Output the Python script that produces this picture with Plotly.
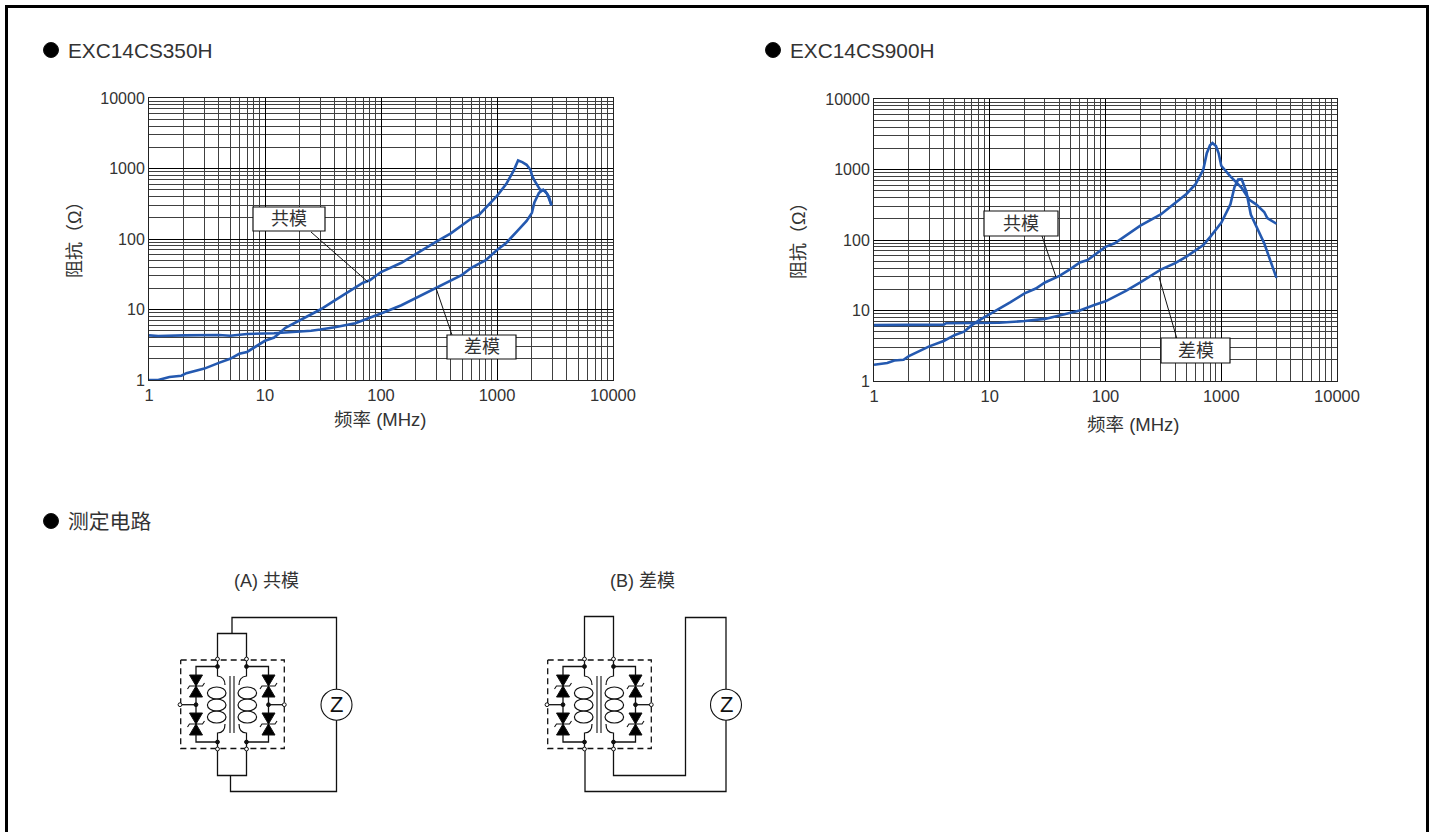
import plotly.graph_objects as go

# ---------- data ----------
freq_a_cm = [1, 1.2, 1.5, 1.9, 2.1, 3, 4, 5, 6, 7, 10, 12, 15, 20, 25, 30, 40, 50, 70, 80, 100, 150, 200, 300, 400, 500, 600, 700, 800, 1000, 1200, 1400, 1520, 1650, 1800, 1950, 2000, 2100, 2350, 2600, 2800, 2950]
imp_a_cm = [1.0, 1.0, 1.1, 1.15, 1.25, 1.45, 1.75, 2.0, 2.35, 2.5, 3.6, 4.0, 5.5, 7.0, 8.5, 10, 13.5, 17, 24, 26, 34, 46, 62, 92, 120, 155, 195, 220, 280, 410, 600, 950, 1300, 1230, 1130, 950, 800, 680, 500, 480, 400, 300]
freq_a_dm = [1, 1.2, 2, 4, 5, 6, 7, 12, 20, 25, 30, 40, 60, 80, 100, 150, 200, 300, 400, 500, 600, 800, 1000, 1200, 1500, 1800, 2000, 2100, 2300, 2500, 2700, 2950]
imp_a_dm = [4.3, 4.2, 4.3, 4.35, 4.25, 4.35, 4.5, 4.6, 4.8, 5.0, 5.2, 5.6, 6.4, 7.6, 8.8, 11.5, 14.5, 20.5, 26, 31, 39, 50, 70, 88, 130, 180, 235, 330, 450, 500, 440, 300]
freq_b_cm = [1, 1.3, 1.5, 1.8, 2, 2.5, 3, 4, 5, 6, 7, 8, 10, 15, 20, 25, 30, 40, 50, 60, 70, 100, 120, 150, 200, 300, 400, 500, 600, 700, 750, 800, 840, 900, 950, 1000, 1200, 1500, 1750, 2000, 2350, 2500, 3000]
imp_b_cm = [1.7, 1.8, 1.95, 2.0, 2.25, 2.7, 3.1, 3.7, 4.5, 5.0, 6.2, 7.2, 8.8, 13, 17.5, 20.5, 25, 31, 39, 48, 52, 80, 90, 115, 160, 230, 330, 450, 620, 1000, 1700, 2200, 2380, 2150, 1700, 1130, 800, 550, 370, 320, 250, 205, 170]
freq_b_dm = [1, 4, 4.2, 10, 12, 20, 30, 40, 60, 80, 100, 150, 200, 300, 400, 500, 700, 800, 1000, 1200, 1300, 1400, 1500, 1650, 1800, 2350, 3000]
imp_b_dm = [6.2, 6.3, 6.6, 6.7, 6.7, 7.1, 7.6, 8.5, 10, 12, 13.5, 19, 25, 38, 47, 58, 85, 110, 175, 320, 560, 720, 730, 480, 230, 90, 29]

tick_values = [1, 10, 100, 1000, 10000]
tick_labels = ["1", "10", "100", "1000", "10000"]
titles = ["EXC14CS350H", "EXC14CS900H"]
mode_cm = "共模"
mode_dm = "差模"

LINE = "#2459b0"
INK = "#333333"
FONT = "Liberation Sans, Noto Sans CJK SC, sans-serif"
W, H = 1434, 832

fig = go.Figure()
for xa, ya, fx, zx in [("x", "y", freq_a_cm, imp_a_cm), ("x", "y", freq_a_dm, imp_a_dm),
                       ("x2", "y2", freq_b_cm, imp_b_cm), ("x2", "y2", freq_b_dm, imp_b_dm)]:
    fig.add_trace(go.Scatter(x=fx, y=zx, xaxis=xa, yaxis=ya, mode="lines",
                             line=dict(color=LINE, width=2.6), showlegend=False, hoverinfo="skip"))
# overlay axis in page pixels (used for the drawing and the call-outs)
fig.add_trace(go.Scatter(x=[0], y=[0], xaxis="x3", yaxis="y3", mode="markers",
                         marker=dict(opacity=0), showlegend=False, hoverinfo="skip"))


def dom_x(a, b):
    return [a / W, b / W]


def dom_y(top, bottom):
    return [1 - bottom / H, 1 - top / H]


def log_axis(domain, anchor, size=16):
    return dict(type="log", domain=domain, anchor=anchor, range=[0, 4], tickmode="array",
                tickvals=tick_values, ticktext=tick_labels, ticks="", ticklen=0, automargin=False,
                showgrid=True, gridcolor="#000000", gridwidth=1,
                minor=dict(showgrid=True, gridcolor="#404040", gridwidth=1.2, dtick="D1", ticks=""),
                showline=True, linecolor="#222222", linewidth=1, mirror=True, zeroline=False,
                tickfont=dict(family=FONT, size=size, color=INK))


fig.update_layout(
    width=W, height=H, margin=dict(l=0, r=0, t=0, b=0), autosize=False,
    paper_bgcolor="white", plot_bgcolor="rgba(0,0,0,0)", showlegend=False,
    font=dict(family=FONT, color=INK),
    xaxis=log_axis(dom_x(149, 613), "y", 16.5),
    yaxis=log_axis(dom_y(98, 380), "x"),
    xaxis2=log_axis(dom_x(874, 1337), "y2", 16.5),
    yaxis2=log_axis(dom_y(99, 381), "x2"),
    xaxis3=dict(domain=[0, 1], range=[0, W], visible=False, anchor="y3", fixedrange=True, automargin=False),
    yaxis3=dict(domain=[0, 1], range=[H, 0], visible=False, anchor="x3", fixedrange=True, automargin=False),
)

shapes = []
annots = []


def seg(pts, width=1.3, color="#111111", dash=None, fill=None):
    d = "M" + " L".join(f"{x:.2f},{y:.2f}" for x, y in pts)
    if fill:
        d += " Z"
    shapes.append(dict(type="path", path=d, xref="x3", yref="y3", layer="above",
                       line=dict(color=color, width=width, dash=dash),
                       fillcolor=fill if fill else "rgba(0,0,0,0)"))


def dot(x, y, r, fill="#111111", width=1.0):
    shapes.append(dict(type="circle", x0=x - r, x1=x + r, y0=y - r, y1=y + r, xref="x3", yref="y3",
                       layer="above", line=dict(color="#111111", width=width), fillcolor=fill))


def text(x, y, s, size, anchor="center", color=INK, angle=0):
    annots.append(dict(x=x, y=y, xref="x3", yref="y3", text=s, showarrow=False, xanchor=anchor,
                       yanchor="middle", textangle=angle, font=dict(family=FONT, size=size, color=color)))


def callout(x0, y0, x1, y1, s):
    shapes.append(dict(type="rect", x0=x0, x1=x1, y0=y0, y1=y1, xref="x3", yref="y3", layer="above",
                       line=dict(color="#111111", width=1.2), fillcolor="white"))
    text((x0 + x1) / 2, (y0 + y1) / 2, s, 18)


# page frame
seg([(6.5, 832), (6.5, 6.5), (1427.5, 6.5), (1427.5, 832)], width=3, color="#000000")

# headings
for x, y, s in [(51, 50, titles[0]), (773, 50, titles[1]), (51, 521, "测定电路")]:
    dot(x, y, 7.5, fill="#000000")
    text(x + 14.5, y, s, 20.8, "left")
text(266, 581, "(A) 共模", 18)
text(642, 581, "(B) 差模", 18)

# axis titles
text(75, 236, "阻抗（Ω）", 18, angle=-90)
text(799, 237, "阻抗（Ω）", 18, angle=-90)
text(380, 419, "频率 (MHz)", 18.5)
text(1133, 424, "频率 (MHz)", 18.5)

# call-outs and leader lines
seg([(311, 232), (368, 282)], width=1)
seg([(436, 288), (452, 335)], width=1)
seg([(1042, 236), (1056, 277)], width=1)
seg([(1159, 277), (1177, 339)], width=1)
callout(253, 207, 325, 231, mode_cm)
callout(447, 335, 516, 359, mode_dm)
callout(984, 211, 1058, 236, mode_cm)
callout(1161, 338, 1230, 363, mode_dm)


def circuit(dx):
    """device symbol, dashed box from 180.7 (A) plus dx"""
    X = lambda v: v + dx
    seg([(X(180.7), 660), (X(284.3), 660), (X(284.3), 748.5), (X(180.7), 748.5), (X(180.7), 660)],
        width=1.3, dash="6px,4px")
    # diode rails
    seg([(X(217.5), 666.5), (X(196), 666.5), (X(196), 742), (X(217.5), 742)])
    seg([(X(246.5), 666.5), (X(268.5), 666.5), (X(268.5), 742), (X(246.5), 742)])
    seg([(X(180), 704.7), (X(196), 704.7)])
    seg([(X(268.5), 704.7), (X(284.3), 704.7)])
    for cx in (196, 268.5):
        sgn = 1 if cx == 196 else -1
        for top, mid, bot in [(675, 686, 697), (713, 724, 735)]:
            seg([(X(cx - 6.5), top), (X(cx + 6.5), top), (X(cx), mid)], width=1, fill="#000000")
            seg([(X(cx - 6.5), bot), (X(cx + 6.5), bot), (X(cx), mid)], width=1, fill="#000000")
            seg([(X(cx - 8.5 * sgn), mid + 3 * sgn), (X(cx - 6.5 * sgn), mid), (X(cx + 6.5 * sgn), mid),
                 (X(cx + 8.5 * sgn), mid - 3 * sgn)], width=1.1)
    # windings
    for xw, sgn in [(217.5, 1), (246.5, -1)]:
        bulge = xw + 7.5 * sgn
        for path in (f"M{X(xw)},666.5 L{X(xw)},676 Q{X(bulge)},677 {X(bulge)},685",
                     f"M{X(bulge)},724 Q{X(bulge)},733 {X(xw)},733 L{X(xw)},742"):
            shapes.append(dict(type="path", xref="x3", yref="y3", layer="above",
                               line=dict(color="#111111", width=1.2), path=path))
        cx = xw - 0.8 * sgn
        for cy in (693, 705, 717):
            shapes.append(dict(type="circle", x0=X(cx - 9.3), x1=X(cx + 9.3), y0=cy - 6, y1=cy + 6,
                               xref="x3", yref="y3", layer="above",
                               line=dict(color="#111111", width=1.2), fillcolor="rgba(0,0,0,0)"))
    # core
    seg([(X(230), 676), (X(230), 733)], width=1.1)
    seg([(X(234), 676), (X(234), 733)], width=1.1)
    # dots
    for vx, vy in [(217.5, 666.5), (246.5, 666.5), (217.5, 742), (246.5, 742), (196, 704.7), (268.5, 704.7)]:
        dot(X(vx), vy, 1.9)
    for vx, vy in [(217.5, 659), (246.5, 659), (217.5, 749), (246.5, 749), (180, 704.7), (284.3, 704.7)]:
        dot(X(vx), vy, 1.9, fill="white", width=1)
    # terminals
    for vx in (217.5, 246.5):
        seg([(X(vx), 661), (X(vx), 666.5)])
        seg([(X(vx), 742), (X(vx), 747)])


def zcircle(x, y=704.7):
    dot(x, y, 15.5, fill="white", width=1.1)
    text(x, y, "Z", 22, color="#111111")


circuit(0)
seg([(217.5, 657), (217.5, 633.5), (246.5, 633.5), (246.5, 657)])
seg([(217.5, 751), (217.5, 775.5), (246.5, 775.5), (246.5, 751)])
seg([(232, 633.5), (232, 617.5), (336.5, 617.5), (336.5, 689)])
seg([(336.5, 720), (336.5, 791.5), (230.5, 791.5), (230.5, 775.5)])
zcircle(336.5)

circuit(367)
seg([(584.5, 657), (584.5, 616.5), (613.5, 616.5), (613.5, 657)])
seg([(613.5, 751), (613.5, 775.5), (685.5, 775.5), (685.5, 617.5), (726, 617.5), (726, 689)])
seg([(726, 720), (726, 791.5), (585, 791.5), (585, 751)])
zcircle(726)

fig.update_layout(shapes=shapes, annotations=annots)
# the figure fills the window exactly: no body margin, no mode bar
fig.write_html("out.html", config={"displayModeBar": False}, post_script="document.body.style.margin='0';")
